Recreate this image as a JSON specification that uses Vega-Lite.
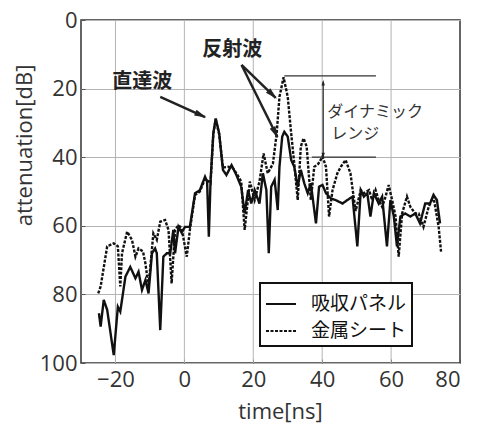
{
  "$schema": "https://vega.github.io/schema/vega-lite/v6.json",
  "width": 379,
  "height": 343,
  "autosize": {"type": "none"},
  "padding": {"left": 81, "top": 20, "right": 19, "bottom": 61},
  "background": "white",
  "config": {
    "view": {"stroke": "#333", "strokeWidth": 1.5},
    "font": "Open Sans",
    "legend": {"strokeWidth": 2},
    "axis": {"labelFont": "Open Sans", "titleFont": "Open Sans", "labelFontSize": 22, "titleFontSize": 22, "titleFontWeight": "normal", "labelColor": "#333", "titleColor": "#333", "tickColor": "#555"}
  },
  "datasets": {
    "gridX": [{"g": -20}, {"g": 0}, {"g": 20}, {"g": 40}, {"g": 60}],
    "curves": [
      {"t": -24.8, "dB": 85.5, "s": "吸収パネル"}, {"t": -24.3, "dB": 89.4, "s": "吸収パネル"}, {"t": -23.4, "dB": 81.6, "s": "吸収パネル"}, {"t": -22.4, "dB": 84.5, "s": "吸収パネル"}, {"t": -20.5, "dB": 97.7, "s": "吸収パネル"}, {"t": -19.3, "dB": 83.6, "s": "吸収パネル"}, {"t": -18.6, "dB": 85, "s": "吸収パネル"}, {"t": -17.1, "dB": 74.8, "s": "吸収パネル"}, {"t": -15.7, "dB": 72, "s": "吸収パネル"}, {"t": -14.2, "dB": 75.3, "s": "吸収パネル"}, {"t": -13.3, "dB": 73.4, "s": "吸収パネル"}, {"t": -12.3, "dB": 78.7, "s": "吸収パネル"}, {"t": -11.3, "dB": 75.8, "s": "吸収パネル"}, {"t": -10.4, "dB": 79.7, "s": "吸収パネル"}, {"t": -9.4, "dB": 68, "s": "吸収パネル"}, {"t": -8.5, "dB": 66.6, "s": "吸収パネル"}, {"t": -8, "dB": 68, "s": "吸収パネル"}, {"t": -7, "dB": 90.4, "s": "吸収パネル"}, {"t": -6.1, "dB": 69, "s": "吸収パネル"}, {"t": -5.1, "dB": 68, "s": "吸収パネル"}, {"t": -4.1, "dB": 68, "s": "吸収パネル"}, {"t": -3.2, "dB": 61.2, "s": "吸収パネル"}, {"t": -2.7, "dB": 68, "s": "吸収パネル"}, {"t": -1.7, "dB": 60.3, "s": "吸収パネル"}, {"t": -0.8, "dB": 62, "s": "吸収パネル"}, {"t": 0.2, "dB": 60.3, "s": "吸収パネル"}, {"t": 1.6, "dB": 60.3, "s": "吸収パネル"}, {"t": 3.1, "dB": 50.5, "s": "吸収パネル"}, {"t": 4.5, "dB": 49.6, "s": "吸収パネル"}, {"t": 6.0, "dB": 45.7, "s": "吸収パネル"}, {"t": 6.6, "dB": 47.1, "s": "吸収パネル"}, {"t": 7.1, "dB": 63.2, "s": "吸収パネル"}, {"t": 7.6, "dB": 47, "s": "吸収パネル"}, {"t": 8.4, "dB": 33, "s": "吸収パネル"}, {"t": 9.1, "dB": 28.7, "s": "吸収パネル"}, {"t": 10.1, "dB": 33, "s": "吸収パネル"}, {"t": 11.2, "dB": 43.7, "s": "吸収パネル"}, {"t": 12.2, "dB": 45.2, "s": "吸収パネル"}, {"t": 13.7, "dB": 42.3, "s": "吸収パネル"}, {"t": 15.1, "dB": 45.2, "s": "吸収パネル"}, {"t": 16.5, "dB": 48.6, "s": "吸収パネル"}, {"t": 17.5, "dB": 56.4, "s": "吸収パネル"}, {"t": 18.5, "dB": 49.6, "s": "吸収パネル"}, {"t": 19.4, "dB": 53.5, "s": "吸収パネル"}, {"t": 20.4, "dB": 49.6, "s": "吸収パネル"}, {"t": 21.8, "dB": 53.5, "s": "吸収パネル"}, {"t": 22.8, "dB": 44.7, "s": "吸収パネル"}, {"t": 23.8, "dB": 49.6, "s": "吸収パネル"}, {"t": 24.5, "dB": 68, "s": "吸収パネル"}, {"t": 25.2, "dB": 48.6, "s": "吸収パネル"}, {"t": 26.2, "dB": 46.6, "s": "吸収パネル"}, {"t": 27.1, "dB": 55.4, "s": "吸収パネル"}, {"t": 27.6, "dB": 42.8, "s": "吸収パネル"}, {"t": 28.4, "dB": 34, "s": "吸収パネル"}, {"t": 29, "dB": 32.6, "s": "吸収パネル"}, {"t": 30, "dB": 34, "s": "吸収パネル"}, {"t": 31, "dB": 40.8, "s": "吸収パネル"}, {"t": 31.9, "dB": 42.8, "s": "吸収パネル"}, {"t": 32.9, "dB": 48.6, "s": "吸収パネル"}, {"t": 33.8, "dB": 43.7, "s": "吸収パネル"}, {"t": 34.8, "dB": 47.6, "s": "吸収パネル"}, {"t": 35.8, "dB": 50.5, "s": "吸収パネル"}, {"t": 36.7, "dB": 47.6, "s": "吸収パネル"}, {"t": 38.2, "dB": 59.3, "s": "吸収パネル"}, {"t": 39.1, "dB": 48.6, "s": "吸収パネル"}, {"t": 40.1, "dB": 48.1, "s": "吸収パネル"}, {"t": 41.1, "dB": 50.5, "s": "吸収パネル"}, {"t": 42.5, "dB": 52, "s": "吸収パネル"}, {"t": 43.9, "dB": 52.5, "s": "吸収パネル"}, {"t": 45.9, "dB": 53.5, "s": "吸収パネル"}, {"t": 47.3, "dB": 52.5, "s": "吸収パネル"}, {"t": 48.8, "dB": 51.5, "s": "吸収パネル"}, {"t": 50.2, "dB": 66, "s": "吸収パネル"}, {"t": 51.2, "dB": 49.6, "s": "吸収パネル"}, {"t": 52.1, "dB": 51.5, "s": "吸収パネル"}, {"t": 53.1, "dB": 50.5, "s": "吸収パネル"}, {"t": 54, "dB": 57.3, "s": "吸収パネル"}, {"t": 55, "dB": 50.5, "s": "吸収パネル"}, {"t": 56.4, "dB": 53.5, "s": "吸収パネル"}, {"t": 57.4, "dB": 51.5, "s": "吸収パネル"}, {"t": 58.8, "dB": 66, "s": "吸収パネル"}, {"t": 59.8, "dB": 52.5, "s": "吸収パネル"}, {"t": 60.8, "dB": 57.3, "s": "吸収パネル"}, {"t": 61.7, "dB": 66, "s": "吸収パネル"}, {"t": 62.7, "dB": 57.3, "s": "吸収パネル"}, {"t": 64.1, "dB": 56.4, "s": "吸収パネル"}, {"t": 65.6, "dB": 57.3, "s": "吸収パネル"}, {"t": 67, "dB": 56.4, "s": "吸収パネル"}, {"t": 68.4, "dB": 59.3, "s": "吸収パネル"}, {"t": 69.9, "dB": 53.5, "s": "吸収パネル"}, {"t": 71.3, "dB": 53.5, "s": "吸収パネル"}, {"t": 72.3, "dB": 51, "s": "吸収パネル"}, {"t": 73.3, "dB": 52.5, "s": "吸収パネル"}, {"t": 74.2, "dB": 59.3, "s": "吸収パネル"},
      {"t": -25, "dB": 79.7, "s": "金属シート"}, {"t": -24.3, "dB": 77.7, "s": "金属シート"}, {"t": -22.4, "dB": 66, "s": "金属シート"}, {"t": -20.5, "dB": 65.1, "s": "金属シート"}, {"t": -19.3, "dB": 66, "s": "金属シート"}, {"t": -18.6, "dB": 77.7, "s": "金属シート"}, {"t": -18.1, "dB": 68, "s": "金属シート"}, {"t": -16.6, "dB": 61.7, "s": "金属シート"}, {"t": -15.2, "dB": 64.1, "s": "金属シート"}, {"t": -14.2, "dB": 69, "s": "金属シート"}, {"t": -13.3, "dB": 66.6, "s": "金属シート"}, {"t": -12, "dB": 67.5, "s": "金属シート"}, {"t": -11.3, "dB": 71, "s": "金属シート"}, {"t": -10.4, "dB": 77.7, "s": "金属シート"}, {"t": -9, "dB": 62.2, "s": "金属シート"}, {"t": -8, "dB": 64.1, "s": "金属シート"}, {"t": -7, "dB": 58.8, "s": "金属シート"}, {"t": -5.6, "dB": 58.3, "s": "金属シート"}, {"t": -4.6, "dB": 61.2, "s": "金属シート"}, {"t": -3.7, "dB": 76.8, "s": "金属シート"}, {"t": -2.7, "dB": 61.2, "s": "金属シート"}, {"t": -1.7, "dB": 59.8, "s": "金属シート"}, {"t": -0.8, "dB": 60.7, "s": "金属シート"}, {"t": 0.7, "dB": 69, "s": "金属シート"}, {"t": 1.6, "dB": 61.2, "s": "金属シート"}, {"t": 3.1, "dB": 51, "s": "金属シート"}, {"t": 4.5, "dB": 50, "s": "金属シート"}, {"t": 6.0, "dB": 46.3, "s": "金属シート"}, {"t": 7.6, "dB": 47.5, "s": "金属シート"}, {"t": 8.4, "dB": 33.3, "s": "金属シート"}, {"t": 9.1, "dB": 29, "s": "金属シート"}, {"t": 10.1, "dB": 33.3, "s": "金属シート"}, {"t": 11.2, "dB": 43, "s": "金属シート"}, {"t": 12.7, "dB": 42.8, "s": "金属シート"}, {"t": 14.1, "dB": 43.2, "s": "金属シート"}, {"t": 15.3, "dB": 45, "s": "金属シート"}, {"t": 16.5, "dB": 47.1, "s": "金属シート"}, {"t": 17.5, "dB": 61.2, "s": "金属シート"}, {"t": 19, "dB": 47.1, "s": "金属シート"}, {"t": 20.4, "dB": 52.5, "s": "金属シート"}, {"t": 21.8, "dB": 47.1, "s": "金属シート"}, {"t": 23, "dB": 38.9, "s": "金属シート"}, {"t": 24.2, "dB": 44.7, "s": "金属シート"}, {"t": 25.7, "dB": 41.9, "s": "金属シート"}, {"t": 26.8, "dB": 33, "s": "金属シート"}, {"t": 27.6, "dB": 22.4, "s": "金属シート"}, {"t": 28.8, "dB": 16.7, "s": "金属シート"}, {"t": 30, "dB": 22.4, "s": "金属シート"}, {"t": 31, "dB": 33, "s": "金属シート"}, {"t": 31.9, "dB": 41.9, "s": "金属シート"}, {"t": 32.9, "dB": 52.5, "s": "金属シート"}, {"t": 33.8, "dB": 36.9, "s": "金属シート"}, {"t": 34.6, "dB": 34.5, "s": "金属シート"}, {"t": 35.5, "dB": 36.9, "s": "金属シート"}, {"t": 36.7, "dB": 52.5, "s": "金属シート"}, {"t": 37.7, "dB": 42.8, "s": "金属シート"}, {"t": 38.9, "dB": 41.9, "s": "金属シート"}, {"t": 40.1, "dB": 39.8, "s": "金属シート"}, {"t": 41.1, "dB": 42.8, "s": "金属シート"}, {"t": 42, "dB": 57.3, "s": "金属シート"}, {"t": 43, "dB": 49.6, "s": "金属シート"}, {"t": 44.4, "dB": 44.7, "s": "金属シート"}, {"t": 45.4, "dB": 42.8, "s": "金属シート"}, {"t": 46.8, "dB": 40.8, "s": "金属シート"}, {"t": 48.2, "dB": 44.7, "s": "金属シート"}, {"t": 49.7, "dB": 55.7, "s": "金属シート"}, {"t": 51.2, "dB": 49.6, "s": "金属シート"}, {"t": 52.1, "dB": 50.5, "s": "金属シート"}, {"t": 53.6, "dB": 49.6, "s": "金属シート"}, {"t": 54.5, "dB": 52.5, "s": "金属シート"}, {"t": 55.5, "dB": 49.6, "s": "金属シート"}, {"t": 56.4, "dB": 52.5, "s": "金属シート"}, {"t": 57.4, "dB": 54.5, "s": "金属シート"}, {"t": 58.4, "dB": 51.5, "s": "金属シート"}, {"t": 59.3, "dB": 48.1, "s": "金属シート"}, {"t": 60.3, "dB": 52.5, "s": "金属シート"}, {"t": 61.3, "dB": 57.3, "s": "金属シート"}, {"t": 62.2, "dB": 69, "s": "金属シート"}, {"t": 63.2, "dB": 56.4, "s": "金属シート"}, {"t": 64.6, "dB": 51.5, "s": "金属シート"}, {"t": 65.6, "dB": 54.5, "s": "金属シート"}, {"t": 67, "dB": 56.4, "s": "金属シート"}, {"t": 68, "dB": 56.4, "s": "金属シート"}, {"t": 69.4, "dB": 60.3, "s": "金属シート"}, {"t": 70.9, "dB": 54.5, "s": "金属シート"}, {"t": 72.3, "dB": 51.5, "s": "金属シート"}, {"t": 73.8, "dB": 60.3, "s": "金属シート"}, {"t": 74.5, "dB": 67.5, "s": "金属シート"}
    ],
    "arrows": [
      {"x": -7, "y": 22.4, "x2": 6, "y2": 28.3},
      {"x": 16.6, "y": 13.1, "x2": 26.5, "y2": 22.7},
      {"x": 16.6, "y": 13.1, "x2": 27.0, "y2": 34.1}
    ],
    "heads": [
      {"x": 4.7, "y": 27.7, "a": 114},
      {"x": 25.5, "y": 21.7, "a": 134},
      {"x": 26.35, "y": 32.8, "a": 153}
    ],
    "rangeLines": [
      {"x": 29, "y": 16.3, "x2": 55.6, "y2": 16.3},
      {"x": 37, "y": 40, "x2": 55.6, "y2": 40},
      {"x": 40.3, "y": 18, "x2": 40.3, "y2": 39.8}
    ],
    "rangeHeads": [
      {"x": 40.3, "y": 18.3, "a": 0},
      {"x": 40.3, "y": 39.5, "a": 180}
    ],
    "bigLabels": [
      {"x": -12.2, "y": 18.1, "label": "直達波"},
      {"x": 13.9, "y": 8.7, "label": "反射波"}
    ],
    "smallLabels": [
      {"x": 41.5, "y": 26.8, "label": "ダイナミック"},
      {"x": 42.6, "y": 33.3, "label": "レンジ"}
    ]
  },
  "layer": [
    {
      "data": {"name": "gridX"},
      "mark": {"type": "rule", "strokeWidth": 1, "color": "#b4b4b4"},
      "encoding": {"x": {"field": "g", "type": "quantitative"}}
    },
    {
      "data": {"name": "curves"},
      "mark": {"type": "line", "strokeWidth": 2.4, "color": "#111"},
      "encoding": {
        "x": {"field": "t", "type": "quantitative", "scale": {"domain": [-30, 80], "nice": false},
          "axis": {"title": "time[ns]", "values": [-20, 0, 20, 40, 60, 80],
            "grid": false, "domain": false,
            "tickSize": -4, "labelPadding": 10, "titleX": 199, "titleY": 48, "titleBaseline": "middle", "titleAlign": "center"}},
        "y": {"field": "dB", "type": "quantitative", "scale": {"domain": [100, 0], "nice": false},
          "axis": {"title": "attenuation[dB]", "values": [0,20,40,60,80,100],
            "grid": true, "gridColor": "#b4b4b4", "gridOpacity": 1, "gridWidth": 1, "domain": false,
            "tickSize": -4, "labelPadding": 8, "titleX": -57, "titleY": 125, "titleAngle": 270, "titleBaseline": "middle", "titleAlign": "center"}},
        "strokeDash": {"field": "s", "type": "nominal",
          "scale": {"domain": ["吸収パネル", "金属シート"], "range": [[1, 0], [3, 1.5]]},
          "legend": {"title": null, "orient": "none", "legendX": 179, "legendY": 263, "strokeColor": "#111", "fillColor": "white", "padding": 5, "labelFont": "Noto Sans CJK JP", "labelFontSize": 19, "labelColor": "#111", "symbolType": "stroke", "symbolSize": 900, "symbolStrokeWidth": 2, "symbolStrokeColor": "#111", "labelOffset": 14, "rowPadding": 1}}
      }
    },
    {
      "data": {"name": "rangeLines"},
      "mark": {"type": "rule", "strokeWidth": 1.3, "color": "#333"},
      "encoding": {"x": {"field": "x", "type": "quantitative"}, "y": {"field": "y", "type": "quantitative"}, "x2": {"field": "x2"}, "y2": {"field": "y2"}}
    },
    {
      "data": {"name": "rangeHeads"},
      "mark": {"type": "point", "shape": "M0,-1L0.6,1L-0.6,1Z", "filled": true, "color": "#222", "size": 30, "opacity": 1},
      "encoding": {"x": {"field": "x", "type": "quantitative"}, "y": {"field": "y", "type": "quantitative"}, "angle": {"field": "a", "type": "quantitative", "scale": null}}
    },
    {
      "data": {"name": "arrows"},
      "mark": {"type": "rule", "strokeWidth": 2.5, "color": "#222"},
      "encoding": {"x": {"field": "x", "type": "quantitative"}, "y": {"field": "y", "type": "quantitative"}, "x2": {"field": "x2"}, "y2": {"field": "y2"}}
    },
    {
      "data": {"name": "heads"},
      "mark": {"type": "point", "shape": "M0,-1L0.5,0.9L-0.5,0.9Z", "filled": true, "color": "#222", "size": 160, "opacity": 1},
      "encoding": {"x": {"field": "x", "type": "quantitative"}, "y": {"field": "y", "type": "quantitative"}, "angle": {"field": "a", "type": "quantitative", "scale": null}}
    },
    {
      "data": {"name": "bigLabels"},
      "mark": {"type": "text", "font": "Noto Sans CJK JP", "fontSize": 20, "fontWeight": "bold", "color": "#222", "align": "center", "baseline": "middle"},
      "encoding": {"x": {"field": "x", "type": "quantitative"}, "y": {"field": "y", "type": "quantitative"}, "text": {"field": "label"}}
    },
    {
      "data": {"name": "smallLabels"},
      "mark": {"type": "text", "font": "Noto Sans CJK JP", "fontSize": 16, "color": "#333", "align": "left", "baseline": "middle"},
      "encoding": {"x": {"field": "x", "type": "quantitative"}, "y": {"field": "y", "type": "quantitative"}, "text": {"field": "label"}}
    }
  ]
}
